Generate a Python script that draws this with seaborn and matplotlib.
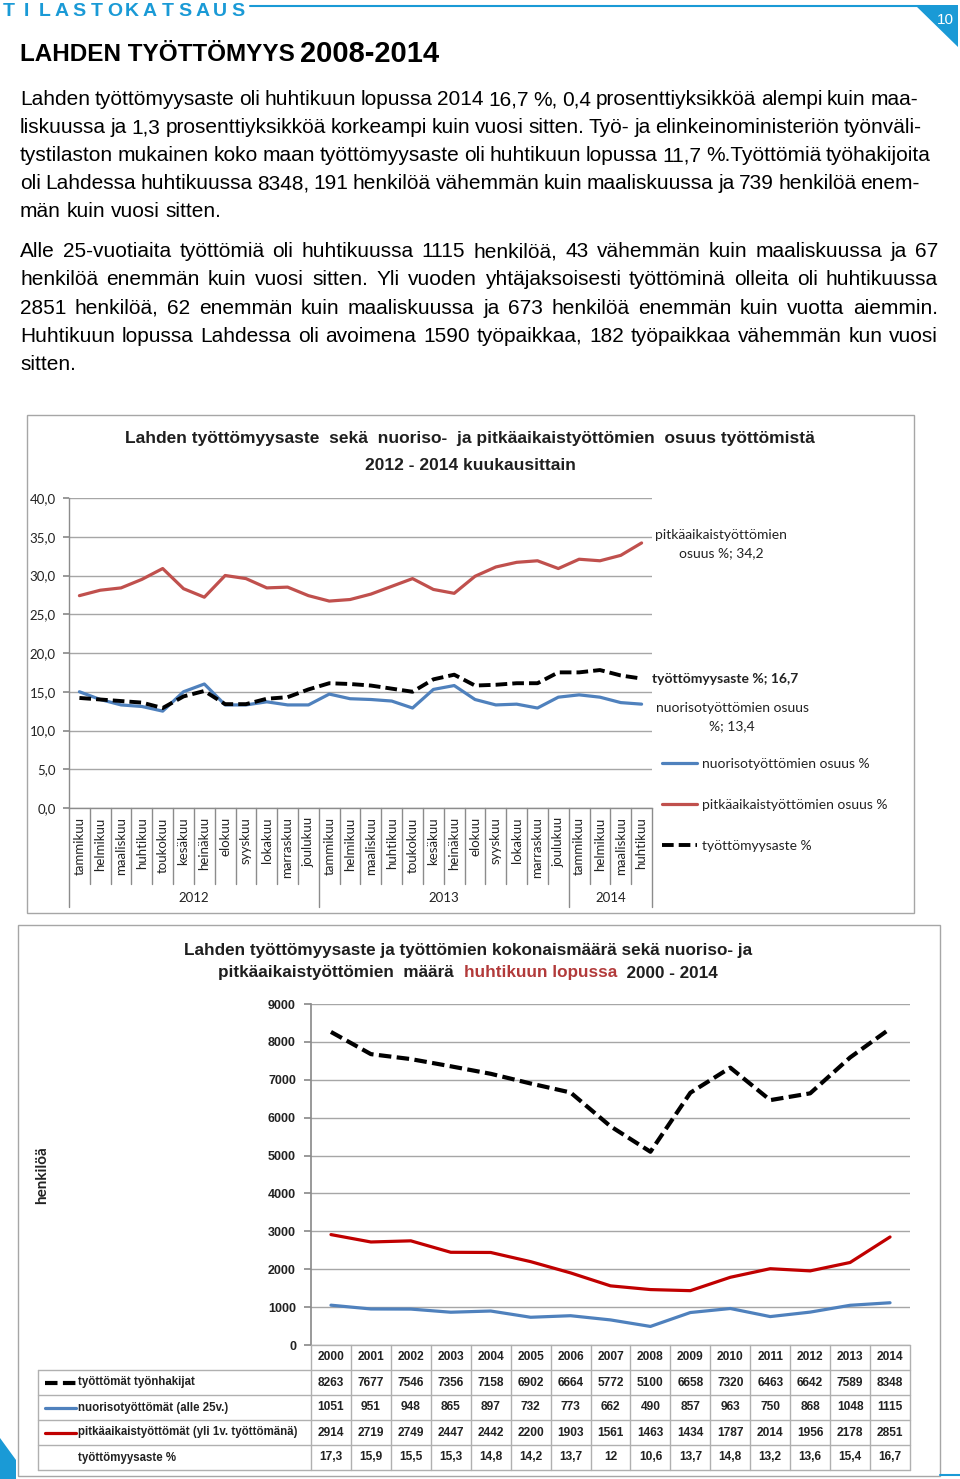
import numpy as np
import pandas as pd
import matplotlib
matplotlib.use("Agg")
import matplotlib.pyplot as plt
import seaborn as sns
from matplotlib import font_manager
from matplotlib.lines import Line2D
from matplotlib.patches import Rectangle, Polygon
import matplotlib.transforms as mtransforms

# ---------------- data ----------------
months = ["tammikuu", "helmikuu", "maaliskuu", "huhtikuu", "toukokuu", "kesäkuu",
          "heinäkuu", "elokuu", "syyskuu", "lokakuu", "marraskuu", "joulukuu"]
month_labels = months + months + months[:4]
month_years = ["2012", "2013", "2014"]

youth_share = [15.0, 14.0, 13.3, 13.1, 12.5, 15.0, 16.0, 13.3, 13.3, 13.7, 13.3, 13.3,
               14.7, 14.1, 14.0, 13.8, 12.9, 15.3, 15.8, 14.0, 13.3, 13.4, 12.9, 14.3,
               14.6, 14.3, 13.6, 13.4]
long_share = [27.4, 28.1, 28.4, 29.5, 30.9, 28.3, 27.2, 30.0, 29.6, 28.4, 28.5, 27.4,
              26.7, 26.9, 27.6, 28.6, 29.6, 28.2, 27.7, 29.9, 31.1, 31.7, 31.9, 30.9,
              32.1, 31.9, 32.6, 34.2]
rate_month = [14.2, 14.0, 13.8, 13.6, 12.9, 14.4, 15.1, 13.4, 13.4, 14.1, 14.3, 15.3,
              16.1, 16.0, 15.8, 15.4, 15.0, 16.6, 17.2, 15.8, 15.9, 16.1, 16.1, 17.5,
              17.5, 17.8, 17.1, 16.7]

years = ["2000", "2001", "2002", "2003", "2004", "2005", "2006", "2007", "2008",
         "2009", "2010", "2011", "2012", "2013", "2014"]
unemployed = [8263, 7677, 7546, 7356, 7158, 6902, 6664, 5772, 5100, 6658, 7320, 6463, 6642, 7589, 8348]
youth = [1051, 951, 948, 865, 897, 732, 773, 662, 490, 857, 963, 750, 868, 1048, 1115]
longterm = [2914, 2719, 2749, 2447, 2442, 2200, 1903, 1561, 1463, 1434, 1787, 2014, 1956, 2178, 2851]
rate_year = ["17,3", "15,9", "15,5", "15,3", "14,8", "14,2", "13,7", "12", "10,6",
             "13,7", "14,8", "13,2", "13,6", "15,4", "16,7"]

para1 = [
    "Lahden työttömyysaste oli huhtikuun lopussa 2014 16,7 %, 0,4 prosenttiyksikköä alempi kuin maa-",
    "liskuussa ja 1,3 prosenttiyksikköä korkeampi kuin vuosi sitten. Työ- ja elinkeinoministeriön työnväli-",
    "tystilaston mukainen koko maan työttömyysaste oli huhtikuun lopussa 11,7 %.Työttömiä työhakijoita",
    "oli Lahdessa huhtikuussa 8348, 191 henkilöä vähemmän kuin maaliskuussa ja 739 henkilöä enem-",
    "män kuin vuosi sitten.",
]
para2 = [
    "Alle 25-vuotiaita työttömiä oli huhtikuussa 1115 henkilöä, 43 vähemmän kuin maaliskuussa ja 67",
    "henkilöä enemmän kuin vuosi sitten. Yli vuoden yhtäjaksoisesti työttöminä olleita oli huhtikuussa",
    "2851 henkilöä, 62 enemmän kuin maaliskuussa ja 673 henkilöä enemmän kuin vuotta aiemmin.",
    "Huhtikuun lopussa Lahdessa oli avoimena 1590 työpaikkaa, 182 työpaikkaa vähemmän kun vuosi",
    "sitten.",
]

# ---------------- style ----------------
sns.set_theme(style="white")
BODY = "Liberation Sans"
NARROW = "Liberation Sans"
CAL = "Lato"
plt.rcParams["font.family"] = [CAL, "DejaVu Sans"]

BLUE = "#4f81bd"
RED1 = "#c0504d"
RED2 = "#c00000"
HEAD = "#1a9ad6"
GRID = "#a6a6a6"
TXT = "#222222"

W, H = 960, 1479
fig = plt.figure(figsize=(W / 100, H / 100), dpi=100)
renderer = fig.canvas.get_renderer()


def fx(x):
    return x / W


def fy(y):
    return 1 - y / H


def hline(x0, x1, y, **kw):
    fig.add_artist(Line2D([fx(x0), fx(x1)], [fy(y), fy(y)], transform=fig.transFigure, **kw))


def vline(x, y0, y1, **kw):
    fig.add_artist(Line2D([fx(x), fx(x)], [fy(y0), fy(y1)], transform=fig.transFigure, **kw))


# ---------------- page header ----------------
for i, ch in enumerate("TILASTOKATSAUS"):
    fig.text(fx(9 + i * 17.6), fy(16), ch, family=NARROW, fontweight="bold",
             fontsize=14, color=HEAD, ha="center", va="baseline")
hline(250, 930, 6, color=HEAD, lw=1.5)
fig.add_artist(Polygon([[fx(915), fy(5)], [fx(958), fy(5)], [fx(958), fy(47)]],
                       closed=True, transform=fig.transFigure, color=HEAD, lw=0))
fig.text(fx(945), fy(20), "10", color="white", fontsize=11, family=NARROW,
         ha="center", va="center")
fig.add_artist(Polygon([[fx(0), fy(1438)], [fx(16), fy(1460)], [fx(16), fy(1479)], [fx(0), fy(1479)]],
                       closed=True, transform=fig.transFigure, color=HEAD, lw=0))
hline(940, 960, 1475, color=HEAD, lw=1.5)

t1 = fig.text(fx(20), fy(61), "LAHDEN TYÖTTÖMYYS ", family=NARROW, fontweight="bold",
              fontsize=17.5, color="black", va="baseline")
w1 = t1.get_window_extent(renderer).width
fig.text(fx(20 + w1 - 2), fy(62), "2008-2014", family=NARROW, fontweight="bold",
         fontsize=21, color="black", va="baseline")


# ---------------- justified body text ----------------
def justify(line, x0, x1, ybase, last=False, size=15):
    words = line.split(" ")
    texts = [fig.text(0, fy(ybase), w, family=BODY, fontsize=size, color="black",
                      ha="left", va="baseline") for w in words]
    widths = [t.get_window_extent(renderer).width for t in texts]
    probe_a = fig.text(0, 0, "a a", family=BODY, fontsize=size)
    probe_b = fig.text(0, 0, "aa", family=BODY, fontsize=size)
    space = probe_a.get_window_extent(renderer).width - probe_b.get_window_extent(renderer).width
    probe_a.remove()
    probe_b.remove()
    if last or len(words) == 1:
        gap = space
    else:
        gap = (x1 - x0 - sum(widths)) / (len(words) - 1)
    x = x0
    for t, w in zip(texts, widths):
        t.set_x(fx(x))
        x += w + gap


rights1 = [918, 922, 931, 920, 0]
for i, (ln, r) in enumerate(zip(para1, rights1)):
    justify(ln, 20, r, 105 + i * 28, last=(i == len(para1) - 1))
for i, ln in enumerate(para2):
    justify(ln, 20, 938, 257 + i * 28.3, last=(i == len(para2) - 1))

# ---------------- chart 1 ----------------
fig.add_artist(Rectangle((fx(27), fy(913)), fx(914) - fx(27), fy(415) - fy(913),
                         transform=fig.transFigure, fill=False, edgecolor=GRID, lw=1))
fig.text(fx(470), fy(438), "Lahden työttömyysaste  sekä  nuoriso-  ja pitkäaikaistyöttömien  osuus työttömistä",
         family=NARROW, fontweight="bold", fontsize=12.5, ha="center", va="center", color="#1f1f1f")
fig.text(fx(470), fy(466), "2012 - 2014 kuukausittain",
         family=NARROW, fontweight="bold", fontsize=12.5, ha="center", va="center", color="#1f1f1f")

ax1 = fig.add_axes([fx(69), fy(808), fx(652) - fx(69), fy(498) - fy(808)])
idx = np.arange(len(month_labels))
df1 = pd.DataFrame({"i": idx, "youth": youth_share, "long": long_share, "rate": rate_month})
sns.lineplot(data=df1, x="i", y="long", ax=ax1, color=RED1, linewidth=2.3, label="pitkäaikaistyöttömien osuus %")
sns.lineplot(data=df1, x="i", y="youth", ax=ax1, color=BLUE, linewidth=2.3, label="nuorisotyöttömien osuus %")
sns.lineplot(data=df1, x="i", y="rate", ax=ax1, color="black", linewidth=2.8,
             linestyle=(0, (3, 1.3)), label="työttömyysaste %")
ax1.set_xlim(-0.5, len(month_labels) - 0.5)
ax1.set_ylim(0, 40)
ax1.set_yticks(np.arange(0, 41, 5))
ax1.set_yticklabels([f"{v:.1f}".replace(".", ",") for v in np.arange(0, 41, 5)], fontsize=9.5, color=TXT)
ax1.set_xticks([])
ax1.set_xlabel("")
ax1.set_ylabel("")
ax1.grid(axis="y", color=GRID, lw=1)
ax1.set_axisbelow(True)
for s in ["top", "right"]:
    ax1.spines[s].set_visible(False)
for s in ["left", "bottom"]:
    ax1.spines[s].set_color("#8c8c8c")
    ax1.spines[s].set_linewidth(1)
ax1.tick_params(axis="y", left=True, length=4, color="#8c8c8c", pad=5.5)
ax1.get_legend().remove()

blend1 = mtransforms.blended_transform_factory(ax1.transData, ax1.transAxes)
for i, lab in enumerate(month_labels):
    ax1.text(i, -0.03, lab, rotation=90, ha="center", va="top", fontsize=9.5,
             color=TXT, transform=blend1)
for b in range(len(month_labels) + 1):
    ext = -0.32 if b in (0, 12, 24, 28) else -0.245
    ax1.plot([b - 0.5, b - 0.5], [0, ext], color="#8c8c8c", lw=1, transform=blend1, clip_on=False)
for yr, c in zip(month_years, [5.5, 17.5, 25.5]):
    ax1.text(c, -0.29, yr, ha="center", va="center", fontsize=9.5, color=TXT, transform=blend1)

# end labels
fig.text(fx(721), fy(544), "pitkäaikaistyöttömien\nosuus %; 34,2", ha="center", va="center",
         fontsize=10, linespacing=1.55, color=TXT)
fig.text(fx(652), fy(679), "työttömyysaste %; 16,7", ha="left", va="center",
         fontsize=10, fontweight="bold", color=TXT)
fig.text(fx(732), fy(717), "nuorisotyöttömien osuus\n%; 13,4", ha="center", va="center",
         fontsize=10, linespacing=1.55, color=TXT)

h_blue = Line2D([], [], color=BLUE, lw=2.3)
h_red = Line2D([], [], color=RED1, lw=2.3)
h_blk = Line2D([], [], color="black", lw=2.8, linestyle=(0, (3, 1.3)))
leg = ax1.legend([h_blue, h_red, h_blk],
                 ["nuorisotyöttömien osuus %", "pitkäaikaistyöttömien osuus %", "työttömyysaste %"],
                 loc="upper left", bbox_to_anchor=(fx(662), fy(758)), bbox_transform=fig.transFigure,
                 frameon=False, fontsize=10, handlelength=2.5, handletextpad=0.4,
                 labelspacing=2.1, borderpad=0, borderaxespad=0)
for t in leg.get_texts():
    t.set_color(TXT)

# ---------------- chart 2 ----------------
fig.add_artist(Rectangle((fx(18), fy(1476)), fx(940) - fx(18), fy(925) - fy(1476),
                         transform=fig.transFigure, fill=False, edgecolor=GRID, lw=1))
fig.text(fx(468), fy(950), "Lahden työttömyysaste ja työttömien kokonaismäärä sekä nuoriso- ja",
         family=NARROW, fontweight="bold", fontsize=12.3, ha="center", va="center", color="#1f1f1f")
segs = [("pitkäaikaistyöttömien  määrä  ", "#1f1f1f"), ("huhtikuun lopussa", "#b23a3a"), ("  2000 - 2014", "#1f1f1f")]
tts = []
for s, c in segs:
    tts.append(fig.text(0, fy(973), s, family=NARROW, fontweight="bold", fontsize=12.3,
                        ha="left", va="center", color=c))
ws = [t.get_window_extent(renderer).width for t in tts]
x = 468 - sum(ws) / 2
for t, w in zip(tts, ws):
    t.set_x(fx(x))
    x += w

fig.text(fx(42), fy(1175), "henkilöä", rotation=90, ha="center", va="center",
         fontsize=11, fontweight="bold", color=TXT)

ax2 = fig.add_axes([fx(311), fy(1345), fx(910) - fx(311), fy(1004) - fy(1345)])
yi = np.arange(len(years))
df2 = pd.DataFrame({"i": yi, "tot": unemployed, "youth": youth, "long": longterm})
sns.lineplot(data=df2, x="i", y="youth", ax=ax2, color=BLUE, linewidth=2.3)
sns.lineplot(data=df2, x="i", y="long", ax=ax2, color=RED2, linewidth=2.3)
sns.lineplot(data=df2, x="i", y="tot", ax=ax2, color="black", linewidth=3.0, linestyle=(0, (3, 1.3)))
ax2.set_xlim(-0.5, len(years) - 0.5)
ax2.set_ylim(0, 9000)
ax2.set_yticks(np.arange(0, 9001, 1000))
ax2.set_yticklabels([str(v) for v in range(0, 9001, 1000)], family=NARROW, fontweight="bold",
                    fontsize=9, color=TXT)
ax2.set_xticks([])
ax2.set_xlabel("")
ax2.set_ylabel("")
ax2.grid(axis="y", color=GRID, lw=1)
ax2.set_axisbelow(True)
for s in ["top", "right", "bottom"]:
    ax2.spines[s].set_visible(False)
ax2.spines["left"].set_color("#8c8c8c")
ax2.tick_params(axis="y", left=True, length=5, color="#8c8c8c", pad=5.8)


# table
def data_x_px(v):
    return ax2.transData.transform((v, 0))[0]


row_y = [1345, 1370, 1395, 1420, 1445, 1470]
xb = [data_x_px(i - 0.5) for i in range(len(years) + 1)]
TCOL = "#b0b0b0"
hline(xb[0], xb[-1], row_y[0], color=TCOL, lw=1)
for y in row_y[1:]:
    hline(38, xb[-1], y, color=TCOL, lw=1)
for xv in xb:
    vline(xv, row_y[0], row_y[-1], color=TCOL, lw=1)
vline(38, row_y[1], row_y[-1], color=TCOL, lw=1)

for i, yr in enumerate(years):
    xc = data_x_px(i)
    fig.text(fx(xc), fy((row_y[0] + row_y[1]) / 2), yr, family=NARROW, fontweight="bold",
             fontsize=8.6, ha="center", va="center", color=TXT)
rows = [[str(v) for v in unemployed], [str(v) for v in youth], [str(v) for v in longterm], rate_year]
row_names = ["työttömät työnhakijat", "nuorisotyöttömät (alle 25v.)",
             "pitkäaikaistyöttömät (yli 1v. työttömänä)", "työttömyysaste %"]
keys = [("black", (0, (3, 1.3)), 3.0), (BLUE, "-", 2.3), (RED2, "-", 2.3), None]
for r in range(4):
    yc = (row_y[r + 1] + row_y[r + 2]) / 2
    for i, v in enumerate(rows[r]):
        fig.text(fx(data_x_px(i)), fy(yc), v, family=NARROW, fontweight="bold",
                 fontsize=8.6, ha="center", va="center", color=TXT)
    fig.text(fx(78), fy(yc), row_names[r], family=NARROW, fontweight="bold",
             fontsize=8.3, ha="left", va="center", color=TXT)
    if keys[r] is not None:
        c, ls, lw = keys[r]
        hline(45, 76, yc, color=c, linestyle=ls, lw=lw)

fig.savefig("out.png", dpi=100)
